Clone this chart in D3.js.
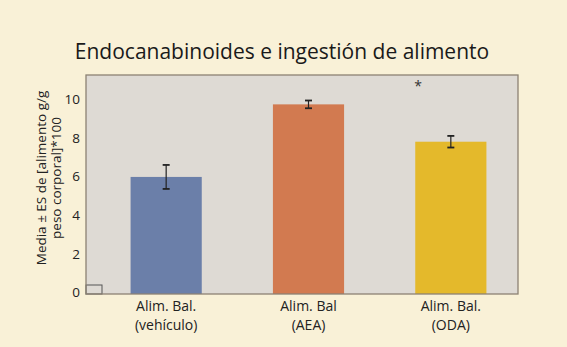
<!DOCTYPE html>
<html>
<head>
<meta charset="utf-8">
<script src="https://cdn.jsdelivr.net/npm/d3@7"></script>
<style>
  body { margin: 0; background: #f9f1d7; }
  svg { display: block; font-family: "Open Sans", "Noto Sans", sans-serif; }
</style>
</head>
<body>
<svg id="chart"></svg>
<script>
const categories = ["vehiculo", "AEA", "ODA"];
const labelLine1 = ["Alim. Bal.", "Alim. Bal", "Alim. Bal."];
const labelLine2 = ["(vehículo)", "(AEA)", "(ODA)"];
const means = [6.05, 9.8, 7.87];
const errors = [0.62, 0.2, 0.3];
const barColors = ["#6b7fa9", "#d27a50", "#e4b92b"];
const yTicks = [0, 2, 4, 6, 8, 10];

function makeBarChart() {
    let w = 567;
    let h = 347;

    let svg = d3.select('#chart')
        .attr('width', w)
        .attr('height', h);

    let left = 86, right = 518, top = 75, bottom = 294;

    let yScale = d3.scaleLinear()
        .domain([0, 10])
        .range([bottom, 100.5]);

    let xScale = d3.scaleBand()
        .domain(categories)
        .range([95, 522])
        .paddingInner(0.5)
        .paddingOuter(0.25);

    // plot background
    svg.append('rect')
        .attr('x', left).attr('y', top)
        .attr('width', right - left).attr('height', bottom - top)
        .attr('fill', '#dedad4');

    // bars
    svg.selectAll('.bar')
        .data(categories)
        .enter()
        .append('rect')
        .attr('class', 'bar')
        .attr('x', d => xScale(d))
        .attr('y', (d, i) => yScale(means[i]))
        .attr('width', xScale.bandwidth())
        .attr('height', (d, i) => yScale(0) - yScale(means[i]))
        .attr('fill', (d, i) => barColors[i]);

    // error bars
    let eb = svg.selectAll('.err')
        .data(categories)
        .enter()
        .append('g')
        .attr('class', 'err')
        .attr('stroke', '#222')
        .attr('stroke-width', 1.2);
    let cx = d => xScale(d) + xScale.bandwidth() / 2;
    eb.append('line')
        .attr('x1', cx).attr('x2', cx)
        .attr('y1', (d, i) => yScale(means[i] + errors[i]))
        .attr('y2', (d, i) => yScale(means[i] - errors[i]));
    eb.append('line')
        .attr('x1', d => cx(d) - 3.5).attr('x2', d => cx(d) + 3.5)
        .attr('y1', (d, i) => yScale(means[i] + errors[i]))
        .attr('y2', (d, i) => yScale(means[i] + errors[i]))
        .attr('stroke-width', 1.8);
    eb.append('line')
        .attr('x1', d => cx(d) - 3.5).attr('x2', d => cx(d) + 3.5)
        .attr('y1', (d, i) => yScale(means[i] - errors[i]))
        .attr('y2', (d, i) => yScale(means[i] - errors[i]))
        .attr('stroke-width', 1.8);

    // small box near origin
    svg.append('rect')
        .attr('x', left).attr('y', 285)
        .attr('width', 16).attr('height', bottom - 285)
        .attr('fill', 'none')
        .attr('stroke', '#555')
        .attr('stroke-width', 1);

    // frame
    svg.append('rect')
        .attr('x', left).attr('y', top)
        .attr('width', right - left).attr('height', bottom - top)
        .attr('fill', 'none')
        .attr('stroke', '#8c8273')
        .attr('stroke-width', 1.3);

    // y axis labels
    let yAxis = d3.axisLeft(yScale)
        .tickValues(yTicks)
        .tickSize(0)
        .tickPadding(6);
    let yAxisGroup = svg.append('g')
        .attr('transform', `translate(${left}, -1.5)`)
        .call(yAxis);
    yAxisGroup.select('.domain').remove();
    yAxisGroup.selectAll('text')
        .attr('font-size', 13.5)
        .attr('font-family', '"Open Sans", sans-serif')
        .attr('fill', '#222');

    // x category labels, one text per line
    [labelLine1, labelLine2].forEach((lines, k) => {
        svg.selectAll('.xlab' + k)
            .data(categories)
            .enter()
            .append('text')
            .attr('class', 'xlab' + k)
            .attr('text-anchor', 'middle')
            .attr('font-size', 14)
            .attr('fill', '#222')
            .attr('x', cx)
            .attr('y', 311 + k * 19)
            .text((d, i) => lines[i]);
    });

    // y axis title
    ['Media ± ES de [alimento g/g', 'peso corporal]*100'].forEach((t, k) => {
        svg.append('text')
            .attr('transform', `translate(${46 + k * 15},178) rotate(-90)`)
            .attr('text-anchor', 'middle')
            .attr('font-size', 13.5)
            .attr('fill', '#222')
            .text(t);
    });

    // title
    svg.append('text')
        .attr('x', 282).attr('y', 59)
        .attr('text-anchor', 'middle')
        .attr('font-size', 21)
        .attr('fill', '#1a1a1a')
        .text('Endocanabinoides e ingestión de alimento');

    // significance mark
    svg.append('text')
        .attr('x', 418).attr('y', 91)
        .attr('text-anchor', 'middle')
        .attr('font-size', 14)
        .attr('fill', '#333')
        .text('*');
}

window.onload = function() {
    makeBarChart();
}
</script>
</body>
</html>
